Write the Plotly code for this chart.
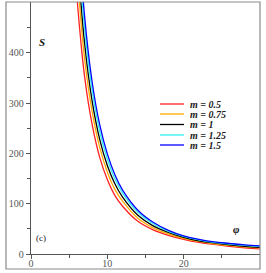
import plotly.graph_objects as go

phi = [6, 7, 8, 9, 10, 11, 12, 14, 16, 18, 20, 22, 24, 26, 28, 30]
s_m050 = [514, 355, 258, 192, 148, 116, 95, 65, 48, 37, 29, 23, 19, 15, 12, 10]
s_m075 = [568, 391, 284, 212, 163, 128, 105, 71, 52, 40, 31, 25, 20, 17, 14, 12]
s_m100 = [610, 422, 305, 228, 176, 139, 113, 77, 56, 43, 33, 26, 22, 18, 15, 13]
s_m125 = [655, 452, 326, 244, 189, 149, 121, 83, 60, 45, 35, 28, 23, 20, 17, 15]
s_m150 = [694, 476, 343, 257, 199, 157, 127, 87, 63, 47, 36, 29, 24, 21, 18, 16]
series = [s_m050, s_m075, s_m100, s_m125, s_m150]
names = ["m = 0.5", "m = 0.75", "m = 1", "m = 1.25", "m = 1.5"]
colors = ["#ff2020", "#ffaa00", "#000000", "#30f0f0", "#0000ff"]
y_ticks = [0, 100, 200, 300, 400]
x_ticks = [0, 10, 20]

W, H = 266, 273
L, R, T, B = 31, 260, 2, 254  # plot area in pixels


def px(x):
    return (x - L) / (R - L)


def py(y):
    return (B - y) / (B - T)


fig = go.Figure()
for ys, n, c in zip(series, names, colors):
    fig.add_trace(go.Scatter(x=phi, y=ys, mode="lines", name=n,
                             line=dict(color=c, width=1.3, shape="spline"),
                             showlegend=False))

serif = "Liberation Serif"
shapes = [
    dict(type="rect", xref="paper", yref="paper", x0=px(6), x1=px(260), y0=py(269), y1=py(2),
         line=dict(color="#8a8a8a", width=1.2)),
]
annotations = []
row_y = [104, 114, 124.5, 135, 145]
for ry, n, c in zip(row_y, names, colors):
    shapes.append(dict(type="line", xref="paper", yref="paper", x0=px(160), x1=px(184),
                       y0=py(ry), y1=py(ry), line=dict(color=c, width=1.3)))
    annotations.append(dict(xref="paper", yref="paper", x=px(188), y=py(ry), text="<b><i>" + n + "</i></b>",
                            showarrow=False, xanchor="left", yanchor="middle",
                            font=dict(family=serif, size=10, color="#222")))

annotations += [
    dict(xref="paper", yref="paper", x=px(42), y=py(42), text="<b><i>S</i></b>", showarrow=False,
         xanchor="center", yanchor="middle", font=dict(family=serif, size=11, color="#111")),
    dict(xref="paper", yref="paper", x=px(236), y=py(229), text="<b><i>φ</i></b>", showarrow=False,
         xanchor="center", yanchor="middle", font=dict(family=serif, size=11, color="#111")),
    dict(xref="paper", yref="paper", x=px(41), y=py(238), text="(c)", showarrow=False,
         xanchor="center", yanchor="middle", font=dict(family=serif, size=9, color="#222")),
]

fig.update_layout(
    width=W, height=H,
    margin=dict(l=L, r=W - R, t=T, b=H - B, pad=0),
    paper_bgcolor="white", plot_bgcolor="white",
    shapes=shapes, annotations=annotations,
    xaxis=dict(range=[0, 30], tickvals=x_ticks, ticktext=[str(v) for v in x_ticks],
               ticks="outside", ticklen=4, tickcolor="#555", tickwidth=1, ticklabelstandoff=-4,
               minor=dict(tickvals=[5, 15, 25], ticks="outside", ticklen=3, tickcolor="#555"),
               showgrid=False, zeroline=False, showline=True, linecolor="#555", linewidth=1.3,
               tickfont=dict(family=serif, size=10, color="#555")),
    yaxis=dict(range=[0, 501], tickvals=y_ticks, ticktext=[str(v) for v in y_ticks],
               ticks="outside", ticklen=4, tickcolor="#555", tickwidth=1,
               minor=dict(tickvals=[50, 150, 250, 350, 450], ticks="outside", ticklen=3, tickcolor="#555"),
               showgrid=False, zeroline=False, showline=True, linecolor="#555", linewidth=1.3,
               tickfont=dict(family=serif, size=10, color="#555")),
)

fig.write_html("out.html", config={"displayModeBar": False},
               post_script="document.body.style.margin='0px';")
